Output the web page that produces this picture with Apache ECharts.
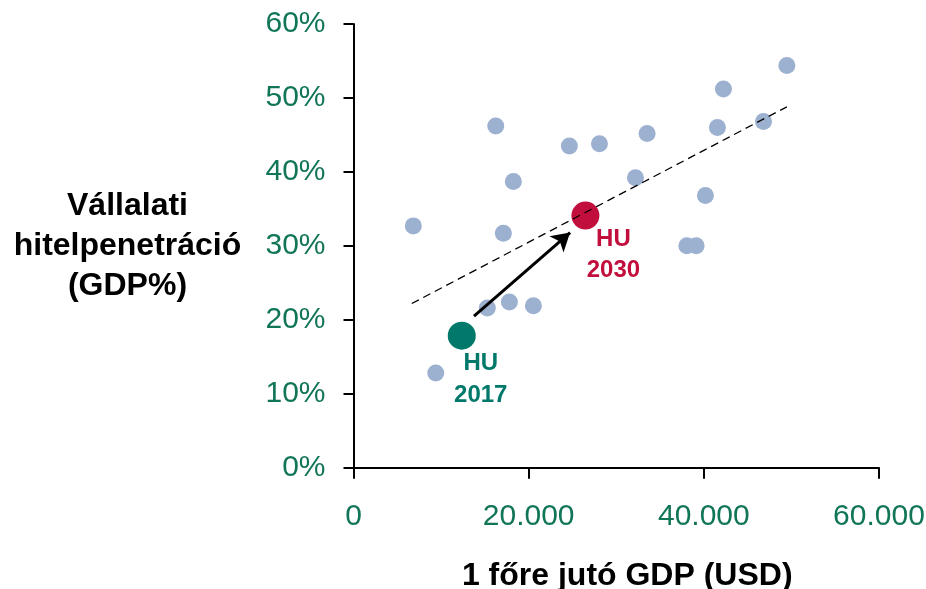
<!DOCTYPE html>
<html><head><meta charset="utf-8">
<script src="https://cdn.jsdelivr.net/npm/echarts@6/dist/echarts.min.js"></script>
<style>html,body{margin:0;padding:0;background:#fff}#c{width:926px;height:589px}</style>
</head><body><div id="c"></div>
<script>
// GDP per capita (USD) and corporate credit penetration (% of GDP)
const countryGdp = [6830, 9390, 16240, 18250, 17110, 15280, 17800, 20540, 24650, 28080, 32190, 33520, 38060, 39120, 40180, 41550, 42240, 46810, 49480];
const countryCredit = [32.7, 12.8, 46.2, 38.7, 31.7, 21.6, 22.4, 21.9, 43.5, 43.8, 39.2, 45.2, 30.0, 30.0, 36.8, 46.0, 51.2, 46.8, 54.4];
const hu2017 = [12360, 17.85];
const hu2030 = [26480, 34.1];
const hu2017Label = 'HU\n2017';
const hu2030Label = 'HU\n2030';
const trendX = [6650, 49480];
const trendY = [22.2, 48.8];
const arrowFrom = [13760, 20.5];
const arrowTo = [24730, 31.8];
const xTitle = '1 főre jutó GDP (USD)';
const yTitle = 'Vállalati\nhitelpenetráció\n(GDP%)';

const fmtThousands = v => String(v).replace(/\B(?=(\d{3})+(?!\d))/g, '.');
const green = '#117558';
const font = 'Arial, "Liberation Sans", sans-serif';

const chart = echarts.init(document.getElementById('c'), null, {renderer: 'canvas'});
chart.setOption({
  animation: false,
  backgroundColor: '#fff',
  grid: {left: 353.5, right: 47, top: 24, bottom: 121.3, containLabel: false, outerBoundsMode: 'none'},
  xAxis: {
    type: 'value', min: 0, max: 60000, interval: 20000,
    name: xTitle, nameLocation: 'middle', nameGap: 108,
    nameTextStyle: {fontFamily: font, fontWeight: 'bold', fontSize: 32, color: '#000', verticalAlign: 'middle', padding: [0, 0, 0, 22]},
    axisLine: {show: true, onZero: false, lineStyle: {color: '#000', width: 2}},
    axisTick: {show: true, inside: false, length: 11, lineStyle: {color: '#000', width: 2}},
    splitLine: {show: false},
    axisLabel: {color: green, fontFamily: font, fontSize: 30, margin: 34, formatter: fmtThousands}
  },
  yAxis: {
    type: 'value', min: 0, max: 60, interval: 10,
    name: yTitle, nameLocation: 'middle', nameGap: 226, nameRotate: 0,
    nameTextStyle: {fontFamily: font, fontWeight: 'bold', fontSize: 32, lineHeight: 40, color: '#000', align: 'center', verticalAlign: 'middle', padding: [0, 0, 20, 0]},
    axisLine: {show: true, onZero: false, lineStyle: {color: '#000', width: 2}},
    axisTick: {show: true, inside: false, length: 10, lineStyle: {color: '#000', width: 2}},
    splitLine: {show: false},
    axisLabel: {color: green, fontFamily: font, fontSize: 30, margin: 28, formatter: '{value}%'}
  },
  series: [
    {
      type: 'scatter', z: 2, symbol: 'circle', symbolSize: 17,
      itemStyle: {color: '#9CB0D0', opacity: 1},
      data: countryGdp.map((x, i) => [x, countryCredit[i]])
    },
    {
      type: 'scatter', z: 2, symbol: 'circle', symbolSize: 28,
      itemStyle: {color: '#00796A', opacity: 1},
      data: [hu2017],
      label: {show: true, formatter: hu2017Label, position: 'bottom', distance: 0, offset: [19, -2],
        color: '#00796A', opacity: 1, fontFamily: font, fontWeight: 'bold', fontSize: 24, lineHeight: 32, align: 'center'}
    },
    {
      type: 'scatter', z: 2, symbol: 'circle', symbolSize: 28,
      itemStyle: {color: '#C20E3D', opacity: 1},
      data: [hu2030],
      label: {show: true, formatter: hu2030Label, position: 'bottom', distance: 0, offset: [28, -6],
        color: '#C20E3D', opacity: 1, fontFamily: font, fontWeight: 'bold', fontSize: 24, lineHeight: 31, align: 'center'}
    },
    {
      type: 'line', z: 3, symbol: 'none', silent: true,
      lineStyle: {color: '#000', width: 1.3, type: [8, 5]},
      data: trendX.map((x, i) => [x, trendY[i]])
    },
    {
      type: 'line', z: 4, symbol: 'none', silent: true, data: [],
      markLine: {
        silent: true, symbol: ['none', 'arrow'], symbolSize: [16, 18],
        label: {show: false},
        lineStyle: {color: '#000', width: 3, type: 'solid'},
        data: [[{coord: arrowFrom}, {coord: arrowTo}]]
      }
    }
  ]
});
</script>
</body></html>
